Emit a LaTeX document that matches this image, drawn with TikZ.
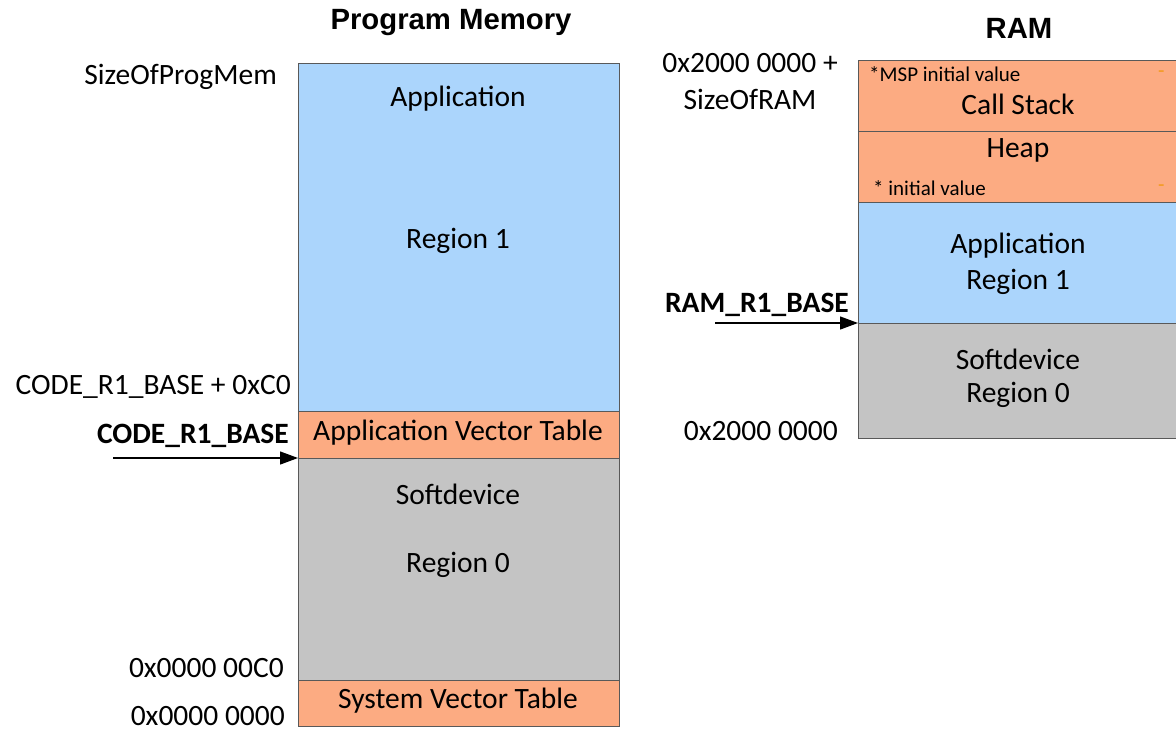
\documentclass[tikz,border=0pt]{standalone}
\usepackage{fontspec}
\setmainfont{Carlito}
\newfontfamily\titlefont{Liberation Sans}
\usetikzlibrary{arrows.meta}
\definecolor{memblue}{HTML}{ABD5FC}
\definecolor{memorange}{HTML}{FCAB82}
\definecolor{memgray}{HTML}{C4C4C4}
\definecolor{bordergray}{HTML}{595959}
\definecolor{dashorange}{HTML}{F39A1C}
\tikzset{
  region/.style={draw=bordergray, line width=1pt, inner sep=0pt, anchor=north west},
  lbl/.style={font=\fontsize{29.5}{34}\selectfont, inner sep=0pt},
  lblr/.style={lbl, anchor=east},
  blbl/.style={font=\fontsize{29.5}{34}\selectfont\bfseries, inner sep=0pt, anchor=east},
  small/.style={font=\fontsize{21}{24}\selectfont, inner sep=0pt, anchor=west},
  ttl/.style={font=\fontsize{29.3}{33}\selectfont\titlefont\bfseries, inner sep=0pt},
  ptr/.style={-{Triangle[length=18pt,width=13pt]}, line width=1.3pt}
}
\begin{document}
\begin{tikzpicture}[x=1pt,y=-1pt]
\useasboundingbox (0,0) rectangle (1176,731);
% Program memory
\node[ttl] (t1) at (451,23) {Program Memory};
\node[region, fill=memblue, minimum width=321pt, minimum height=348pt] (app) at (298,63) {};
\node[region, fill=memorange, minimum width=321pt, minimum height=47pt] (avt) at (298,411) {};
\node[region, fill=memgray, minimum width=321pt, minimum height=222pt] (sd) at (298,458) {};
\node[region, fill=memorange, minimum width=321pt, minimum height=46pt] (svt) at (298,680) {};
\node[lbl] (a1) at (458,99) {Application};
\node[lbl] (a2) at (458,241) {Region 1};
\node[lbl] (a3) at (458,433) {Application Vector Table};
\node[lbl] (a4) at (458,494) {Softdevice};
\node[lbl] (a5) at (458,565) {Region 0};
\node[lbl] (a6) at (458,701) {System Vector Table};
\node[lblr] (l1) at (277,77) {SizeOfProgMem};
\node[lblr] (l2) at (291,387) {CODE\_R1\_BASE + 0xC0};
\node[blbl] (l3) at (289,436) {CODE\_R1\_BASE};
\node[lblr] (l4) at (284,668) {0x0000 00C0};
\node[lblr] (l5) at (285,716) {0x0000 0000};
\coordinate (c1) at (113,458);
\draw[ptr] (c1) -- (sd.north west);
% RAM
\node[ttl] (t2) at (1019,28) {RAM};
\node[region, fill=memorange, minimum width=318pt, minimum height=71pt] (cs) at (858,60) {};
\node[region, fill=memorange, minimum width=318pt, minimum height=71pt] (hp) at (858,131) {};
\node[region, fill=memblue, minimum width=318pt, minimum height=121pt] (rapp) at (858,202) {};
\node[region, fill=memgray, minimum width=318pt, minimum height=115pt] (rsd) at (858,323) {};
\node[small] (s1) at (869,74) {*MSP initial value};
\node[text=dashorange, small] (d1) at (1158,74) {-};
\node[lbl] (r1) at (1018,104) {Call Stack};
\node[lbl] (r2) at (1018,150) {Heap};
\node[small] (s2) at (873,188) {* initial value};
\node[text=dashorange, small] (d2) at (1158,188) {-};
\node[lbl] (r3) at (1018,246) {Application};
\node[lbl] (r4) at (1018,282) {Region 1};
\node[lbl] (r5) at (1018,359) {Softdevice};
\node[lbl] (r6) at (1018,395) {Region 0};
\node[lbl] (m1) at (750,63) {0x2000 0000 +};
\node[lbl] (m2) at (750,99) {SizeOfRAM};
\node[blbl] (m3) at (849,305) {RAM\_R1\_BASE};
\node[lblr] (m4) at (838,431) {0x2000 0000};
\coordinate (c2) at (715,323);
\draw[ptr] (c2) -- (rsd.north west);
\end{tikzpicture}
\end{document}
